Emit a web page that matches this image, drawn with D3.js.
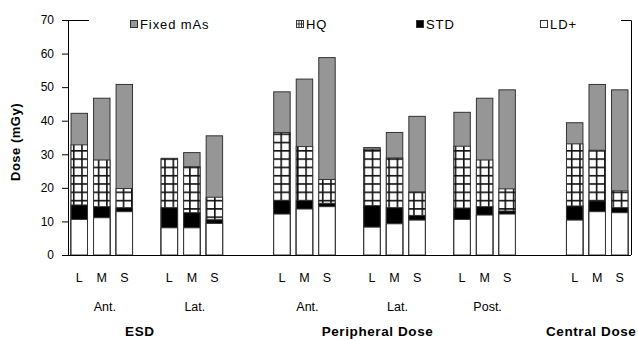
<!DOCTYPE html>
<html>
  <head>
    <meta charset="utf-8">
    <title>Dose by protocol</title>
    <script src="https://cdn.jsdelivr.net/npm/d3@7"></script>
    <style>
      body { margin: 0; background: #fff; }
      svg text { font-family: "Liberation Sans", Arial, sans-serif; fill: #000; }
    </style>
  </head>
  <body>
    <svg width="638" height="339"></svg>
    <script>
      // groups of bars, left to right
      var sections = ['ESD', 'Peripheral Dose', 'Central Dose'];
      var views = [['Ant.', 'Lat.'], ['Ant.', 'Lat.', 'Post.'], ['']];
      var sizes = ['L', 'M', 'S'];

      // dose (mGy) per bar, 18 bars in the order above
      var fixedMAs = [42.2, 46.7, 50.8, 28.6, 30.5, 35.5, 48.6, 52.4, 58.8, 32.0, 36.5, 41.3, 42.5, 46.7, 49.2, 39.4, 50.8, 49.2];
      var hq       = [32.8, 28.3, 19.8, 28.8, 26.3, 17.2, 36.5, 32.3, 22.5, 31.5, 28.9, 18.8, 32.4, 28.3, 19.7, 33.1, 31.2, 19.1];
      var std      = [14.9, 14.4, 14.1, 14.1, 12.6, 10.5, 16.2, 16.2, 15.4, 14.7, 14.1, 11.8, 14.0, 14.4, 13.1, 14.6, 16.1, 14.1];
      var ldPlus   = [10.6, 11.1, 12.9, 8.1, 8.1, 9.4, 12.2, 13.7, 14.4, 8.3, 9.3, 10.4, 10.6, 11.9, 12.2, 10.4, 12.9, 12.6];

      var yTicks = [0, 10, 20, 30, 40, 50, 60, 70];
      var seriesNames = ['Fixed mAs', 'HQ', 'STD', 'LD+'];

      var plotL = 68, plotR = 631, plotT = 20, plotB = 255;
      var svg = d3.select('svg');

      // build slot list with empty slots between views and sections
      var slots = [], bars = [], viewSpans = [], sectionSpans = [];
      var bi = 0;
      sections.forEach(function(sec, si) {
        if (si > 0) { slots.push('gap' + slots.length); slots.push('gap' + slots.length); }
        var secStart = slots.length;
        views[si].forEach(function(v, vi) {
          if (vi > 0) slots.push('gap' + slots.length);
          var vStart = slots.length;
          sizes.forEach(function(s) {
            var id = 'bar' + bi;
            slots.push(id);
            bars.push({id: id, size: s, i: bi});
            bi++;
          });
          viewSpans.push({label: v, from: slots[vStart], to: slots[slots.length - 1]});
        });
        sectionSpans.push({label: sec, from: slots[secStart], to: slots[slots.length - 1]});
      });

      var x = d3.scaleBand().domain(slots).range([plotL, plotR])
        .paddingInner(0.27).paddingOuter(0.135);
      var y = d3.scaleLinear().domain([0, 70]).range([plotB, plotT]);

      // hatch pattern for HQ
      var defs = svg.append('defs');
      var pat = defs.append('pattern').attr('id', 'grid')
        .attr('patternUnits', 'userSpaceOnUse')
        .attr('width', 8.3).attr('height', 8.3)
        .attr('patternTransform', 'translate(6.5,0.6)');
      pat.append('rect').attr('width', 8.3).attr('height', 8.3).attr('fill', '#fff');
      pat.append('path').attr('d', 'M0,0.8H8.3M0.8,0V8.3')
        .attr('stroke', '#111').attr('stroke-width', 1.6).attr('fill', 'none');

      // frame
      svg.append('path')
        .attr('d', 'M' + plotL + ',' + (plotT + 0.5) + 'H' + (plotR + 0.5) + 'V' + plotB)
        .attr('fill', 'none').attr('stroke', '#000').attr('stroke-width', 1);

      var series = [
        {values: fixedMAs, fill: '#969696'},
        {values: hq, fill: 'url(#grid)'},
        {values: std, fill: '#000'},
        {values: ldPlus, fill: '#fff'}
      ];

      series.forEach(function(s) {
        svg.append('g').selectAll('rect').data(bars).enter().append('rect')
          .attr('x', function(d) { return x(d.id); })
          .attr('width', x.bandwidth())
          .attr('y', function(d) { return y(s.values[d.i]); })
          .attr('height', function(d) { return y(0) - y(s.values[d.i]); })
          .attr('fill', s.fill)
          .attr('stroke', '#333').attr('stroke-width', 1);
      });

      // y axis
      var yAxis = svg.append('g').attr('transform', 'translate(' + plotL + ',0)')
        .call(d3.axisLeft(y).tickValues(yTicks).tickSize(6).tickPadding(8));
      yAxis.select('.domain').attr('stroke', '#000');
      yAxis.selectAll('.tick line').attr('stroke', '#000');
      yAxis.selectAll('text').style('font-size', '12px')
        .style('font-family', '"Liberation Sans", Arial, sans-serif');

      // x axis line
      svg.append('line').attr('x1', plotL).attr('x2', plotR)
        .attr('y1', plotB + 0.5).attr('y2', plotB + 0.5)
        .attr('stroke', '#000');

      // size labels
      svg.append('g').selectAll('text').data(bars).enter().append('text')
        .attr('x', function(d) { return x(d.id) + x.bandwidth() / 2; })
        .attr('y', 282)
        .attr('text-anchor', 'middle')
        .style('font-size', '12.5px')
        .text(function(d) { return d.size; });

      function spanMid(sp) {
        return (x(sp.from) + x(sp.to) + x.bandwidth()) / 2;
      }

      svg.append('g').selectAll('text').data(viewSpans).enter().append('text')
        .attr('x', function(d) { return spanMid(d) + 3; })
        .attr('y', 311)
        .attr('text-anchor', 'middle')
        .style('font-size', '12.5px')
        .text(function(d) { return d.label; });

      var sectionShift = [-7, -17, -6];
      svg.append('g').selectAll('text').data(sectionSpans).enter().append('text')
        .attr('x', function(d, i) { return spanMid(d) + sectionShift[i]; })
        .attr('y', 336)
        .attr('text-anchor', 'middle')
        .style('font-size', '13.5px').style('font-weight', 'bold')
        .style('letter-spacing', '0.6px')
        .text(function(d) { return d.label; });

      // y title
      svg.append('text')
        .attr('transform', 'translate(20,142) rotate(-90)')
        .attr('text-anchor', 'middle')
        .style('font-size', '13px').style('font-weight', 'bold')
        .style('letter-spacing', '0.5px')
        .text('Dose (mGy)');

      // legend
      svg.append('rect').attr('x', 89).attr('y', 12).attr('width', 532).attr('height', 20)
        .attr('fill', '#fff');
      var legendX = [130, 296, 416, 540];
      var legendFill = ['#969696', '#fff', '#000', '#fff'];
      var lg = svg.append('g').selectAll('g').data(seriesNames).enter().append('g')
        .attr('transform', function(d, i) { return 'translate(' + legendX[i] + ',20)'; });
      lg.append('rect').attr('x', 0.5).attr('y', 0.5).attr('width', 7).attr('height', 7)
        .attr('fill', function(d, i) { return legendFill[i]; })
        .attr('stroke', '#333');
      lg.filter(function(d, i) { return i === 1; }).append('path')
        .attr('d', 'M3,1V8M5.5,1V8M1,4H8')
        .attr('stroke', '#333').attr('stroke-width', 1);
      lg.append('text').attr('x', 10).attr('y', 8.5)
        .style('font-size', '13px').style('letter-spacing', '0.9px')
        .text(function(d) { return d; });
    </script>
  </body>
</html>
